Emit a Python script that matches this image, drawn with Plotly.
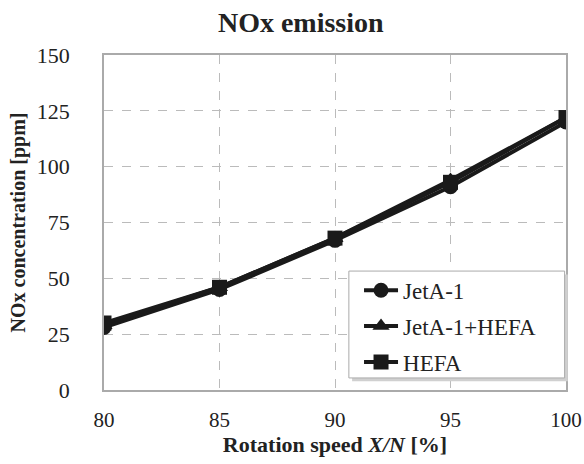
import plotly.graph_objects as go

# Rotation speed (% of rated) and NOx concentration per fuel
speed = [80, 85, 90, 95, 100]
nox_jeta1 = [28, 45, 67, 91, 120]
nox_blend = [29, 46, 68, 94, 122]
nox_hefa = [30, 46, 68, 93, 122]

series = [
    ("JetA-1", nox_jeta1, "circle"),
    ("JetA-1+HEFA", nox_blend, "triangle-up"),
    ("HEFA", nox_hefa, "square"),
]

font_family = "Liberation Serif"

fig = go.Figure()
for name, values, symbol in series:
    fig.add_trace(go.Scatter(
        x=speed, y=values, name=name, legendgroup=name,
        mode="lines+markers",
        line=dict(color="#1a1a1a", width=4),
        marker=dict(symbol=symbol, size=15, color="#1a1a1a"),
    ))

# legend frame with a soft drop shadow (drawn as shapes behind the legend)
box = dict(x0=0.530, x1=0.997, y0=0.036, y1=0.355)
fig.add_shape(type="rect", xref="paper", yref="paper",
              x0=box["x0"] + 0.007, x1=box["x1"] + 0.007,
              y0=box["y0"] - 0.010, y1=box["y1"] - 0.010,
              fillcolor="#d0d0d0", line=dict(width=0), layer="above")
fig.add_shape(type="rect", xref="paper", yref="paper",
              fillcolor="white", line=dict(color="#aaa", width=1),
              layer="above", **box)

fig.update_layout(
    width=584, height=464,
    margin=dict(l=104, r=18, t=55, b=74),
    paper_bgcolor="white", plot_bgcolor="white",
    font=dict(family=font_family, color="#222", size=21),
    title=dict(text="<b>NOx emission</b>", x=0.515, xanchor="center",
               y=0.952, yanchor="middle", font=dict(size=28)),
    legend=dict(
        x=0.552, y=0.362, xanchor="left", yanchor="top",
        bgcolor="rgba(0,0,0,0)", borderwidth=0,
        font=dict(size=23, family=font_family),
        tracegroupgap=3, itemwidth=34,
    ),
    showlegend=True,
)
fig.update_xaxes(
    range=[80, 100], tickvals=[80, 85, 90, 95, 100],
    showgrid=True, gridcolor="#bbb", griddash="dash", gridwidth=1,
    showline=True, linecolor="#aaa", linewidth=1.5, mirror=True,
    zeroline=False, ticks="", ticklabelstandoff=10,
    ticklabeloverflow="allow", automargin=False,
    tickfont=dict(size=21),
    title=dict(text="<b>Rotation speed <i>X/N</i> [%]</b>", standoff=2,
               font=dict(size=22)),
)
fig.update_yaxes(
    range=[0, 150], tickvals=[0, 25, 50, 75, 100, 125, 150],
    showgrid=True, gridcolor="#bbb", griddash="dash", gridwidth=1,
    showline=True, linecolor="#aaa", linewidth=1.5, mirror=True,
    zeroline=False, ticks="", ticklabelstandoff=28, automargin=False,
    tickfont=dict(size=22),
    title=dict(text="<b>NOx concentration [ppm]</b>", standoff=6,
               font=dict(size=20)),
)

fig.write_html("out.html")
